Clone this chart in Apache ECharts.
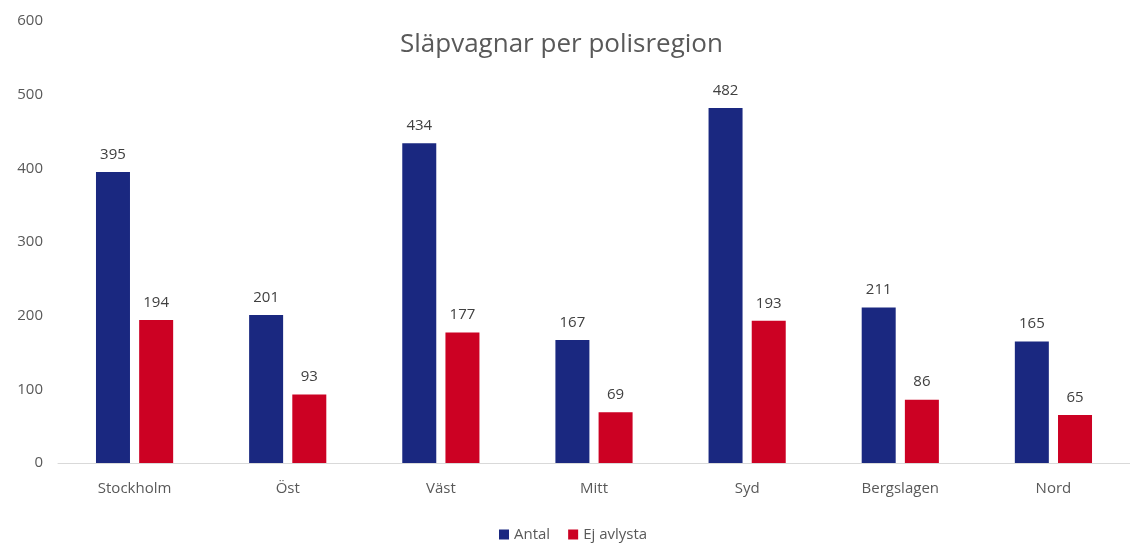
<!DOCTYPE html>
<html>
<head>
<meta charset="utf-8">
<script src="https://cdn.jsdelivr.net/npm/echarts@6/dist/echarts.min.js"></script>
<style>
  html, body { margin: 0; padding: 0; background: #fff; }
  #chart { width: 1130px; height: 545px; }
</style>
</head>
<body>
<div id="chart"></div>
<script>
const categories = ["Stockholm", "Öst", "Väst", "Mitt", "Syd", "Bergslagen", "Nord"];
const antal = [395, 201, 434, 167, 482, 211, 165];
const ejAvlysta = [194, 93, 177, 69, 193, 86, 65];

const chart = echarts.init(document.getElementById("chart"), null, { renderer: "canvas" });

const labelStyle = {
  show: true,
  position: "top",
  distance: 10,
  color: "#404040",
  fontSize: 15,
  fontFamily: "Open Sans",
};

chart.setOption({
  animation: false,
  title: {
    text: "Släpvagnar per polisregion",
    left: 395,
    top: 27,
    textStyle: {
      color: "#595959",
      fontSize: 26,
      fontWeight: "normal",
      fontFamily: "Open Sans",
    },
  },
  legend: {
    bottom: -2,
    left: 494,
    itemWidth: 10,
    itemHeight: 10,
    itemGap: 18,
    icon: "rect",
    textStyle: { color: "#595959", fontSize: 15, fontFamily: "Open Sans" },
    data: ["Antal", "Ej avlysta"],
  },
  grid: { left: 58, right: -3, top: 21, bottom: 82 },
  xAxis: {
    type: "category",
    data: categories,
    axisTick: { show: false },
    axisLine: { lineStyle: { color: "#d9d9d9", width: 1 } },
    axisLabel: { color: "#595959", fontSize: 15, margin: 18, fontFamily: "Open Sans" },
  },
  yAxis: {
    type: "value",
    min: 0,
    max: 600,
    interval: 100,
    splitLine: { show: false },
    axisLabel: { color: "#595959", fontSize: 15, margin: 15, fontFamily: "Open Sans" },
  },
  series: [
    {
      name: "Antal",
      type: "bar",
      data: antal,
      barWidth: 34,
      barGap: "27%",
      itemStyle: { color: "#1a2880" },
      label: labelStyle,
    },
    {
      name: "Ej avlysta",
      type: "bar",
      data: ejAvlysta,
      barWidth: 34,
      itemStyle: { color: "#cc0123" },
      label: labelStyle,
    },
  ],
});
</script>
</body>
</html>
